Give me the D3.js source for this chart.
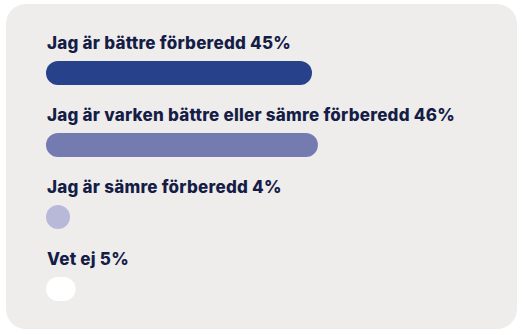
<!DOCTYPE html>
<html>
<head>
<meta charset="utf-8">
<script src="https://cdn.jsdelivr.net/npm/d3@7/dist/d3.min.js"></script>
<style>
  html, body { margin: 0; padding: 0; background: #ffffff; }
  svg { display: block; }
</style>
</head>
<body>
<svg id="chart" width="522" height="335"></svg>
<script>
// Survey answers and their shares (percent)
const categories = [
  "Jag är bättre förberedd",
  "Jag är varken bättre eller sämre förberedd",
  "Jag är sämre förberedd",
  "Vet ej"
];
const values = [45, 46, 4, 5];
const colors = ["#27418a", "#737bb1", "#b8b9d9", "#ffffff"];

const svg = d3.select("#chart");

// Card background
svg.append("rect")
  .attr("x", 6).attr("y", 4)
  .attr("width", 511).attr("height", 325)
  .attr("rx", 20).attr("ry", 20)
  .attr("fill", "#efedeb");

const left = 46;
const barH = 24;
const x = d3.scaleLinear().domain([0, 45]).range([0, 266]);
// Band start = top of each bar
const y = d3.scaleBand().domain(categories).range([61, 61 + 4 * 72]);

const rows = svg.selectAll("g.row")
  .data(categories.map((c, i) => ({ c, v: values[i], col: colors[i] })))
  .join("g")
  .attr("class", "row")
  .attr("transform", d => `translate(${left},${y(d.c)})`);

rows.append("text")
  .attr("x", 1)
  .attr("y", -12.5)
  .attr("fill", "#151d47")
  .style("font-family", "Inter, sans-serif")
  .style("font-weight", 800)
  .style("font-size", "17px")
  .style("letter-spacing", "0.24px")
  .text(d => `${d.c} ${d.v}%`);

rows.append("rect")
  .attr("x", 0)
  .attr("y", 0)
  .attr("width", d => Math.max(x(d.v), barH))
  .attr("height", barH)
  .attr("rx", barH / 2).attr("ry", barH / 2)
  .attr("fill", d => d.col);
</script>
</body>
</html>
